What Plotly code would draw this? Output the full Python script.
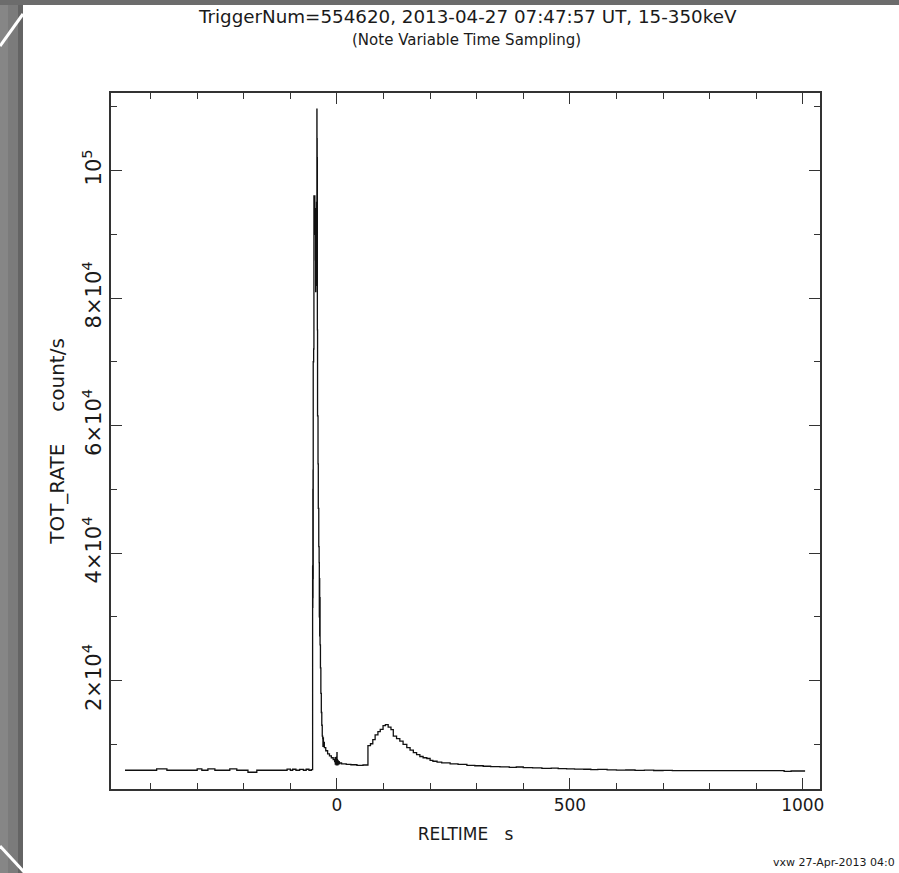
import plotly.graph_objects as go

# ---- light curve: bin start times (s, relative to trigger) and rates (count/s) ----
pre_t = [-455, -387, -365, -300, -290, -277, -262, -230, -215, -191, -172,
         -107, -100, -95, -88, -80, -72, -66, -60, -55]
pre_rate = [5940, 6150, 5940, 6150, 5940, 6150, 5940, 6150, 5940, 5630, 5940,
            6120, 5940, 6100, 5940, 6080, 5940, 6100, 5940, 6050]

burst_t = [-52.2, -51.9, -51.7, -51.5, -51.3, -51.1, -50.9, -50.0, -49.4, -49.0,
           -48.6, -48.2, -47.8, -47.4, -47.0, -46.6, -46.0, -45.7, -45.4, -45.0,
           -44.6, -44.2, -43.8, -43.4, -43.0, -42.8, -42.6, -42.4, -42.2, -42.0,
           -41.6, -40.6, -40.0, -39.0, -38.2, -37.8, -37.4, -37.0, -36.6, -36.2,
           -35.4, -34.5, -33.5, -32.5, -31.5, -30.5, -30.0, -29.5, -29.0, -28.0]
burst_rate = [38000, 31500, 50000, 33000, 53000, 36000, 70000, 72000, 96000, 90500,
              95000, 91000, 96000, 90000, 94000, 90500, 86000, 81000, 89000, 83000,
              90000, 82000, 95000, 91000, 109600, 92000, 105000, 90500, 102000, 75000,
              61500, 54000, 47000, 41000, 38500, 30000, 36000, 27000, 33000, 25600,
              22000, 18000, 15000, 13000, 11300, 10900, 9700, 11000, 9900, 10300]

tail_t = [-27, -24, -20, -16, -12, -8, -5, -4, -3.5, -3, -2.5, -2, -1.5, -1, -0.5,
          0, 0.3, 0.8, 1.2, 2, 3, 4, 5, 6.5, 10, 20, 30, 43, 56,
          66.6, 72, 77, 82, 88, 93, 99, 104, 110, 116, 121, 128, 135, 142, 150,
          157, 164, 171, 178, 185, 193, 200, 206, 215, 225, 243, 260, 279, 296,
          314, 330, 350, 370, 385, 400, 420, 440, 460, 475, 493, 510, 530, 545,
          560, 580, 600, 620, 640, 660, 680, 700, 720, 960, 975, 1005]
tail_rate = [9500, 9000, 8500, 8200, 7900, 7600, 7300, 7900, 6900, 7700, 6900, 7500,
             6800, 8000, 7000, 8700, 6900, 7600, 6800, 7400, 6900, 7300, 7000, 7100,
             6950, 6850, 6800, 6720, 6760,
             9800, 10100, 10750, 11500, 12000, 12350, 12950, 13100, 12700, 12300,
             11300, 10900, 10500, 10000, 9500, 9100, 8700, 8400, 8100, 7900, 7780,
             7500, 7350, 7200, 7100, 6950, 6850, 6720, 6650, 6570, 6520, 6470,
             6400, 6450, 6350, 6310, 6250, 6280, 6200, 6160, 6120, 6100, 6050,
             6080, 6000, 5950, 5980, 5920, 5950, 5900, 5930, 5880, 5750, 5820, 5820]

times = pre_t + burst_t + tail_t
rates = pre_rate + burst_rate + tail_rate

# ---- axes ----
x_range = [-485, 1037]
y_range = [3000, 112150]
x_ticks = [0, 500, 1000]
x_labels = ["0", "500", "1000"]
y_ticks = [20000, 40000, 60000, 80000, 100000]
y_labels = ["2×10<sup>4</sup>", "4×10<sup>4</sup>", "6×10<sup>4</sup>",
            "8×10<sup>4</sup>", "10<sup>5</sup>"]

title_line1 = "TriggerNum=554620, 2013-04-27 07:47:57 UT, 15-350keV"
title_line2 = "(Note Variable Time Sampling)"
stamp = "vxw 27-Apr-2013 04:0"

W, H = 899, 873
L, R, T, B = 111, 820, 93, 789   # plot frame, pixels


def px(xp):
    return (xp - L) / (R - L)


def py(yp):
    return (B - yp) / (B - T)


FONT = "DejaVu Sans, Liberation Sans, sans-serif"
INK = "#1a1a1a"
FRAME = "#333333"

fig = go.Figure(go.Scatter(
    x=times, y=rates, mode="lines", line_shape="hv",
    line=dict(color="#111111", width=1.3), hoverinfo="skip"))

axis_common = dict(showline=True, linecolor=FRAME, linewidth=1.5, mirror="ticks",
                   ticks="inside", ticklen=11, tickwidth=1.2, tickcolor=FRAME,
                   showgrid=False, zeroline=False)

fig.update_xaxes(range=x_range, tickmode="array", tickvals=x_ticks, ticktext=x_labels,
                 tickfont=dict(family=FONT, size=17, color=INK),
                 minor=dict(ticks="inside", ticklen=6, tickwidth=1.2, tickcolor=FRAME,
                            dtick=100, tick0=0, showgrid=False),
                 title=dict(text="RELTIME\u00a0\u00a0 s", standoff=14,
                            font=dict(family=FONT, size=17, color=INK)),
                 **axis_common)
fig.update_yaxes(range=y_range, tickmode="array", tickvals=y_ticks, ticktext=y_labels,
                 tickangle=-90, tickfont=dict(family=FONT, size=21, color=INK),
                 minor=dict(ticks="inside", ticklen=6, tickwidth=1.2, tickcolor=FRAME,
                            dtick=10000, tick0=0, showgrid=False),
                 title=dict(text="TOT_RATE\u00a0\u00a0\u00a0\u00a0 count/s", standoff=8,
                            font=dict(family=FONT, size=20, color=INK)),
                 **axis_common)

# slide frame: grey strips on the left and top edges with white corner strokes
shapes = [
    dict(type="rect", xref="paper", yref="paper", layer="below",
         x0=px(0), x1=px(23), y0=py(H), y1=py(0), fillcolor="#7b7b7b", line_width=0),
    dict(type="rect", xref="paper", yref="paper", layer="below",
         x0=px(0), x1=px(8), y0=py(H), y1=py(0), fillcolor="#868686", line_width=0),
    dict(type="rect", xref="paper", yref="paper", layer="below",
         x0=px(18), x1=px(23), y0=py(H), y1=py(0), fillcolor="#646464", line_width=0),
    dict(type="rect", xref="paper", yref="paper", layer="below",
         x0=px(0), x1=px(W), y0=py(5), y1=py(0), fillcolor="#6c6c6c", line_width=0),
    dict(type="line", xref="paper", yref="paper",
         x0=px(0), y0=py(46), x1=px(23), y1=py(14), line=dict(color="white", width=3)),
    dict(type="line", xref="paper", yref="paper",
         x0=px(0), y0=py(846), x1=px(25), y1=py(873), line=dict(color="white", width=3)),
]

annotations = [
    dict(text=title_line1, xref="paper", yref="paper", x=px(467), y=py(17),
         showarrow=False, xanchor="center", yanchor="middle",
         font=dict(family=FONT, size=18.3, color=INK)),
    dict(text=title_line2, xref="paper", yref="paper", x=px(466), y=py(40),
         showarrow=False, xanchor="center", yanchor="middle",
         font=dict(family=FONT, size=15, color=INK)),
    dict(text=stamp, xref="paper", yref="paper", x=px(897), y=py(862),
         showarrow=False, xanchor="right", yanchor="middle",
         font=dict(family=FONT, size=11, color=INK)),
]

fig.update_layout(width=W, height=H, margin=dict(l=L, r=W - R, t=T, b=H - B),
                  paper_bgcolor="white", plot_bgcolor="white", showlegend=False,
                  shapes=shapes, annotations=annotations)

fig.write_html("out.html")
